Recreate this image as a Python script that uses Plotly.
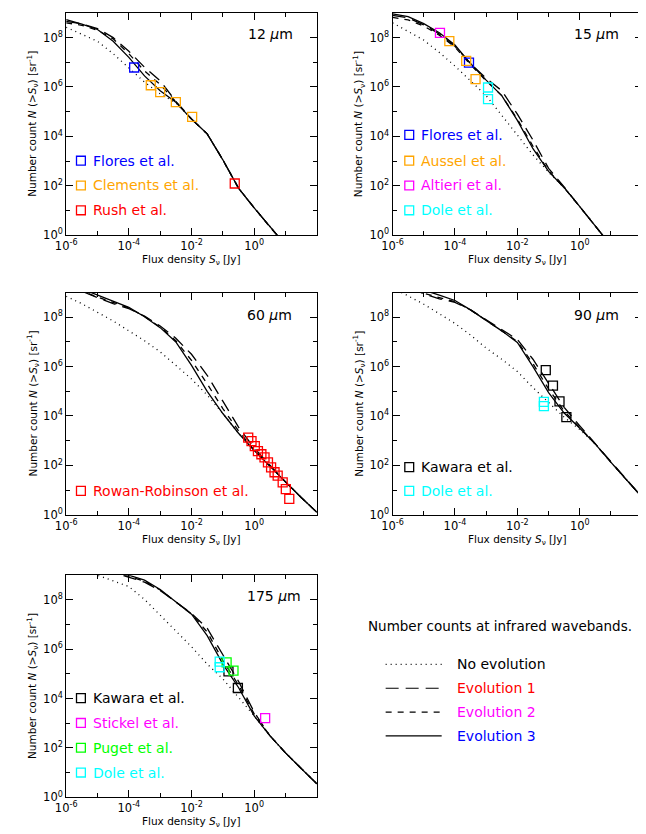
import plotly.graph_objects as go

W, H = 646, 834

# ---------------- data (log10 values) ----------------
log_flux = [-6.0, -5.5, -5.0, -4.5, -4.0, -3.5, -3.0, -2.5, -2.0, -1.5,
            -1.0, -0.5, 0.0, 0.5, 1.0, 1.5, 2.0]

# 12 micron
noevo_12 = [8.42, 8.15, 7.85, 7.35, 6.78, 6.2, 5.72, 5.36, 4.7, 4.1, 3.05, 1.9, 1.1, 0.33, -0.4, -1.1, -1.8]
evo1_12 = [8.66, 8.56, 8.37, 8.0, 7.45, 6.8, 6.25, 5.42, 4.7, 4.1, 3.05, 1.9, 1.1, 0.33, -0.4, -1.1, -1.8]
evo2_12 = [8.6, 8.5, 8.3, 7.95, 7.35, 6.65, 6.1, 5.4, 4.7, 4.1, 3.05, 1.9, 1.1, 0.33, -0.4, -1.1, -1.8]
evo3_12 = [8.73, 8.55, 8.33, 7.85, 7.2, 6.45, 5.85, 5.38, 4.7, 4.1, 3.05, 1.9, 1.1, 0.33, -0.4, -1.1, -1.8]

# 15 micron
noevo_15 = [8.6, 8.25, 7.9, 7.4, 6.85, 6.25, 5.65, 4.85, 4.05, 3.25, 2.55, 1.92, 1.15, 0.33, -0.45, -1.2, -2.0]
evo1_15 = [8.9, 8.8, 8.52, 8.15, 7.65, 6.95, 6.35, 5.85, 4.9, 3.85, 2.7, 1.95, 1.15, 0.33, -0.45, -1.2, -2.0]
evo2_15 = [8.82, 8.72, 8.47, 8.1, 7.62, 6.9, 6.25, 5.65, 4.7, 3.6, 2.6, 1.92, 1.15, 0.33, -0.45, -1.2, -2.0]
evo3_15 = [8.96, 8.85, 8.57, 8.2, 7.7, 6.95, 6.28, 5.65, 4.65, 3.5, 2.58, 1.92, 1.15, 0.33, -0.45, -1.2, -2.0]

# 60 micron
noevo_60 = [8.85, 8.55, 8.2, 7.85, 7.45, 7.05, 6.6, 6.05, 5.5, 4.85, 4.1, 3.3, 2.6, 1.97, 1.32, 0.7, 0.1]
evo1_60 = [9.3, 9.05, 8.8, 8.55, 8.35, 8.05, 7.65, 7.15, 6.5, 5.65, 4.6, 3.55, 2.7, 2.0, 1.32, 0.7, 0.1]
evo2_60 = [9.3, 9.05, 8.82, 8.6, 8.38, 8.03, 7.6, 7.05, 6.25, 5.3, 4.3, 3.4, 2.62, 1.97, 1.32, 0.7, 0.1]
evo3_60 = [9.4, 9.15, 8.92, 8.66, 8.4, 8.02, 7.58, 7.0, 6.05, 5.0, 4.1, 3.3, 2.6, 1.97, 1.32, 0.7, 0.1]

# 90 micron
noevo_90 = [9.2, 8.88, 8.53, 8.14, 7.75, 7.28, 6.75, 6.3, 5.8, 5.15, 4.55, 3.95, 3.45, 2.86, 2.12, 1.43, 0.7]
evo1_90 = [9.5, 9.25, 8.95, 8.75, 8.6, 8.3, 7.9, 7.5, 7.1, 6.3, 5.3, 4.35, 3.6, 2.88, 2.12, 1.43, 0.7]
evo2_90 = [9.5, 9.25, 8.97, 8.8, 8.63, 8.3, 7.88, 7.45, 7.02, 6.12, 5.1, 4.2, 3.52, 2.86, 2.12, 1.43, 0.7]
evo3_90 = [9.6, 9.35, 9.1, 8.9, 8.68, 8.3, 7.88, 7.45, 6.98, 6.0, 4.95, 4.12, 3.5, 2.86, 2.12, 1.43, 0.7]

# 175 micron
noevo_175 = [9.55, 9.3, 9.0, 8.78, 8.54, 8.02, 7.38, 6.75, 6.1, 5.4, 4.8, 4.05, 3.3, 2.5, 1.8, 1.17, 0.55]
evo1_175 = [9.7, 9.5, 9.3, 9.1, 8.93, 8.72, 8.38, 7.93, 7.45, 6.85, 5.75, 4.7, 3.45, 2.5, 1.8, 1.17, 0.55]
evo2_175 = [9.7, 9.5, 9.32, 9.12, 8.95, 8.75, 8.4, 7.93, 7.43, 6.7, 5.55, 4.55, 3.38, 2.5, 1.8, 1.17, 0.55]
evo3_175 = [9.8, 9.6, 9.4, 9.2, 9.0, 8.8, 8.42, 7.93, 7.42, 6.55, 5.4, 4.45, 3.3, 2.5, 1.8, 1.17, 0.55]

# observed counts (log10 S, log10 N)
flores12_x, flores12_y = [-3.83], [6.79]
clements12_x, clements12_y = [-3.3, -3.0, -2.5, -1.98], [6.07, 5.79, 5.39, 4.79]
rush12_x, rush12_y = [-0.62], [2.09]

flores15_x, flores15_y = [-3.55], [6.99]
aussel15_x, aussel15_y = [-4.18, -3.64, -3.34], [7.86, 7.06, 6.32]
altieri15_x, altieri15_y = [-4.48], [8.19]
dole15_x, dole15_y = [-2.94, -2.94], [5.98, 5.51]

rowan60_x = [-0.19, -0.085, 0.02, 0.12, 0.23, 0.33, 0.44, 0.54, 0.65, 0.75, 0.91, 1.01, 1.12]
rowan60_y = [3.12, 2.98, 2.78, 2.58, 2.45, 2.32, 2.12, 1.92, 1.72, 1.58, 1.31, 1.04, 0.64]

kawara90_x, kawara90_y = [-1.09, -0.86, -0.65, -0.43], [5.86, 5.23, 4.59, 3.95]
dole90_x, dole90_y = [-1.15, -1.15], [4.57, 4.4]

kawara175_x, kawara175_y = [-0.82, -0.52], [5.1, 4.43]
stickel175_x, stickel175_y = [0.35], [3.21]
puget175_x, puget175_y = [-0.88, -0.66], [5.47, 5.13]
dole175_x, dole175_y = [-1.1, -1.1], [5.5, 5.27]

x_major = [-6, -4, -2, 0]
x_minor = [-5, -3, -1, 1]
y_major = [0, 2, 4, 6, 8]
y_minor = [1, 3, 5, 7]

# ---------------- styling ----------------
BLUE, ORANGE, RED, MAGENTA, CYAN, GREEN, BLACK = (
    "#0000ff", "#ffa500", "#ff0000", "#ff00ff", "#00ffff", "#00ff00", "#000000")
FONT = "DejaVu Sans"

model_styles = [
    ("No evolution", "1px,4px", BLACK),
    ("Evolution 1", "13px,7px", RED),
    ("Evolution 2", "6px,6px", MAGENTA),
    ("Evolution 3", "solid", BLUE),
]

# panel boxes in pixels: (left, top, right, bottom)
panels = [
    dict(box=(48, 5, 303, 229), label="12 <i>μ</i>m", lab_xy=(256, 26),
         curves=[noevo_12, evo1_12, evo2_12, evo3_12],
         obs=[("Flores et al.", BLUE, flores12_x, flores12_y),
              ("Clements et al.", ORANGE, clements12_x, clements12_y),
              ("Rush et al.", RED, rush12_x, rush12_y)],
         leg_x=63, leg_y=[154, 179, 204]),
    dict(box=(380, 5, 634, 229), label="15 <i>μ</i>m", lab_xy=(588, 26),
         curves=[noevo_15, evo1_15, evo2_15, evo3_15],
         obs=[("Flores et al.", BLUE, flores15_x, flores15_y),
              ("Aussel et al.", ORANGE, aussel15_x, aussel15_y),
              ("Altieri et al.", MAGENTA, altieri15_x, altieri15_y),
              ("Dole et al.", CYAN, dole15_x, dole15_y)],
         leg_x=397, leg_y=[128, 154, 179, 204]),
    dict(box=(48, 287, 303, 511), label="60 <i>μ</i>m", lab_xy=(255, 310),
         curves=[noevo_60, evo1_60, evo2_60, evo3_60],
         obs=[("Rowan-Robinson et al.", RED, rowan60_x, rowan60_y)],
         leg_x=63, leg_y=[487]),
    dict(box=(380, 287, 634, 511), label="90 <i>μ</i>m", lab_xy=(588, 310),
         curves=[noevo_90, evo1_90, evo2_90, evo3_90],
         obs=[("Kawara et al.", BLACK, kawara90_x, kawara90_y),
              ("Dole et al.", CYAN, dole90_x, dole90_y)],
         leg_x=397, leg_y=[463, 487]),
    dict(box=(48, 572, 303, 796), label="175 <i>μ</i>m", lab_xy=(259, 593),
         curves=[noevo_175, evo1_175, evo2_175, evo3_175],
         obs=[("Kawara et al.", BLACK, kawara175_x, kawara175_y),
              ("Stickel et al.", MAGENTA, stickel175_x, stickel175_y),
              ("Puget et al.", GREEN, puget175_x, puget175_y),
              ("Dole et al.", CYAN, dole175_x, dole175_y)],
         leg_x=63, leg_y=[696, 721, 746, 771]),
]


def px(x):
    return x / W


def py(y):
    return 1 - y / H


def tick_text(v):
    return "10<sup>%d</sup>" % v


fig = go.Figure()
layout = dict(width=W, height=H, margin=dict(l=0, r=0, t=0, b=0),
              paper_bgcolor="white", plot_bgcolor="white", showlegend=False,
              font=dict(family=FONT, color="black"))
annotations, shapes = [], []

for i, p in enumerate(panels):
    k = i + 1
    xa = "x" if k == 1 else "x%d" % k
    ya = "y" if k == 1 else "y%d" % k
    l, t, r, b = p["box"]
    axis_common = dict(type="log", showline=True, mirror="ticks", linecolor="black",
                       linewidth=1, ticks="inside", ticklen=7, tickwidth=1,
                       tickcolor="black", showgrid=False, zeroline=False,
                       tickfont=dict(family=FONT, size=11.5, color="black"))
    layout["xaxis" if k == 1 else "xaxis%d" % k] = dict(
        axis_common, domain=[px(l), px(r)], anchor=ya, range=[-6, 2],
        tickvals=[10.0 ** v for v in x_major], ticktext=[tick_text(v) for v in x_major],
        minor=dict(tickvals=[10.0 ** v for v in x_minor], ticklen=4, ticks="inside",
                   tickcolor="black", showgrid=False))
    layout["yaxis" if k == 1 else "yaxis%d" % k] = dict(
        axis_common, domain=[py(b), py(t)], anchor=xa, range=[0, 9],
        tickvals=[10.0 ** v for v in y_major], ticktext=[tick_text(v) for v in y_major],
        minor=dict(tickvals=[10.0 ** v for v in y_minor], ticklen=4, ticks="inside",
                   tickcolor="black", showgrid=False))

    sx = [10.0 ** v for v in log_flux]
    for (name, dash, _), curve in zip(model_styles, p["curves"]):
        fig.add_trace(go.Scatter(
            x=sx, y=[10.0 ** v for v in curve], mode="lines", name=name,
            line=dict(color="black", width=1.3, dash=dash),
            xaxis=xa, yaxis=ya, hoverinfo="skip"))

    for j, (name, color, ox, oy) in enumerate(p["obs"]):
        fig.add_trace(go.Scatter(
            x=[10.0 ** v for v in ox], y=[10.0 ** v for v in oy], mode="markers",
            name=name, marker=dict(symbol="square-open", size=9, color=color,
                                   line=dict(width=1.3, color=color)),
            xaxis=xa, yaxis=ya, cliponaxis=False))
        ly = p["leg_y"][j]
        lx = p["leg_x"]
        shapes.append(dict(type="rect", xref="paper", yref="paper",
                           x0=px(lx - 4.5), x1=px(lx + 4.5), y0=py(ly + 4.5), y1=py(ly - 4.5),
                           line=dict(color=color, width=1.3)))
        annotations.append(dict(text=name, x=px(lx + 10), y=py(ly), xref="paper", yref="paper",
                                xanchor="left", yanchor="middle", showarrow=False,
                                font=dict(family=FONT, size=14, color=color)))

    # panel label
    annotations.append(dict(text=p["label"], x=px(p["lab_xy"][0]), y=py(p["lab_xy"][1]),
                            xref="paper", yref="paper", xanchor="center", yanchor="middle",
                            showarrow=False, font=dict(family=FONT, size=14, color="black")))
    # axis titles
    annotations.append(dict(text="Flux density <i>S</i><sub>ν</sub> [Jy]",
                            x=px((l + r) / 2), y=py(b + 25), xref="paper", yref="paper",
                            xanchor="center", yanchor="middle", showarrow=False,
                            font=dict(family=FONT, size=10.5, color="black")))
    annotations.append(dict(text="Number count <i>N</i> (&gt;<i>S</i><sub>ν</sub>) [sr<sup>-1</sup>]",
                            x=px(l - 34), y=py((t + b) / 2), xref="paper", yref="paper",
                            xanchor="center", yanchor="middle", textangle=-90, showarrow=False,
                            font=dict(family=FONT, size=10.5, color="black")))

# main key
annotations.append(dict(text="Number counts at infrared wavebands.", x=px(353), y=py(623),
                        xref="paper", yref="paper", xanchor="left", yanchor="middle",
                        showarrow=False, font=dict(family=FONT, size=13.5, color="black")))
key_rows = [662, 686, 710, 734]
for (name, dash, color), ry in zip(model_styles, key_rows):
    shapes.append(dict(type="line", xref="paper", yref="paper", x0=px(373), x1=px(430),
                       y0=py(ry), y1=py(ry), line=dict(color="black", width=1.2, dash=dash)))
    annotations.append(dict(text=name, x=px(444), y=py(ry), xref="paper", yref="paper",
                            xanchor="left", yanchor="middle", showarrow=False,
                            font=dict(family=FONT, size=14, color=color)))

layout["annotations"] = annotations
layout["shapes"] = shapes
fig.update_layout(**layout)
fig.write_html("out.html")
